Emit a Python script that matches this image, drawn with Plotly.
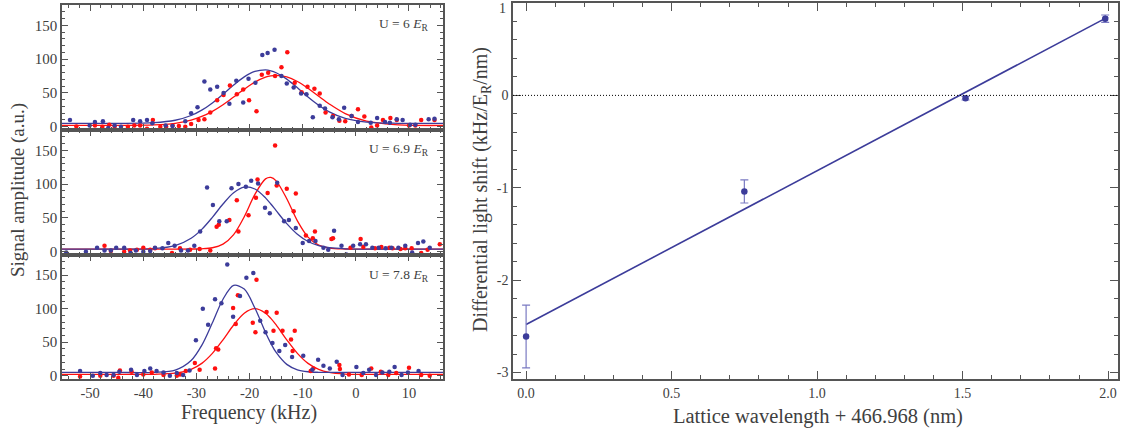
import plotly.graph_objects as go

# ---------------- data: left panels (spectra) ----------------
freq_tick_vals = [-50, -40, -30, -20, -10, 0, 10]
freq_tick_text = ["-50", "-40", "-30", "-20", "-10", "0", "10"]
amp_tick_vals = [0, 50, 100, 150]
amp_tick_text = ["0", "50", "100", "150"]
panel_labels = ["U = 6 <i>E</i><sub>R</sub>", "U = 6.9 <i>E</i><sub>R</sub>", "U = 7.8 <i>E</i><sub>R</sub>"]

p1_blue_x = [-53.8, -50.1, -49.1, -47.6, -46.6, -45.4, -44.2, -41.9, -40.6, -39.3, -38.3, -35.8, -34.5, -32.1,
             -31.0, -29.8, -28.5, -27.4, -26.1, -24.9, -23.8, -22.5, -21.2, -20.2, -18.9, -17.6, -16.6, -15.3,
             -14.0, -13.0, -11.7, -10.3, -9.3, -8.1, -6.8, -5.8, -4.4, -3.2, -2.2, -0.8, 0.4, 2.8, 4.0, 5.5,
             6.4, 7.7, 8.8, 10.2, 11.2, 13.7, 14.8]
p1_blue_y = [10, 2, 7, 8, -2, 2, 0, 10, 8, 10, 5, 2, 1, 8,
             20, 29, 67, 55, 59, 50, 34, 68, 36, 71, 65, 106, 109, 114,
             75, 64, 58, 49, 48, 14, 31, 27, 14, 11, 28, 16, 7, 6, 13, 7,
             6, 11, 10, 3, 3, 11, 12]
p1_red_x = [-52.6, -49.1, -47.7, -46.4, -45.4, -42.9, -41.7, -40.6, -39.3, -38.2, -36.8, -35.7, -34.5, -33.3,
            -32.1, -31.0, -29.6, -28.5, -27.4, -26.1, -24.9, -23.7, -22.4, -21.2, -20.1, -18.7, -17.7, -16.5,
            -15.2, -14.0, -12.9, -11.5, -10.2, -9.1, -7.8, -6.8, -5.7, -4.3, -3.1, -2.0, -0.8, 0.4, 1.6, 2.9,
            4.0, 5.1, 6.5, 7.7, 10.0, 11.2, 12.3, 14.8]
p1_red_y = [0.5, 2, 0, 3, 0, 0, 2, 2, -3, 10, 0, 0, 2, 1,
            0, 4, 10, 11, 21, 39, 47, 61, 48, 55, 39, 23, 77, 80,
            75, 88, 110, 65, 51, 59, 56, 49, 21, 16, 9, 8, 16, 26, 15, -1,
            2, 10, 13, 10, 2, 2, 10, 10]

p2_blue_x = [-54.5, -50.8, -48.7, -47.3, -46.1, -45.1, -43.6, -42.4, -41.4, -40.0, -38.7, -37.8, -36.4, -35.3,
             -34.1, -32.9, -31.6, -30.4, -29.3, -28.0, -26.9, -25.7, -24.3, -23.4, -22.1, -20.7, -19.7, -18.4,
             -17.1, -16.2, -14.8, -13.5, -12.6, -11.3, -10.0, -8.8, -7.6, -6.1, -5.2, -4.1, -2.7, -1.8, -0.5,
             0.8, 1.9, 3.1, 4.3, 5.6, 6.7, 8.0, 9.3, 10.6, 11.7, 12.7, 13.9]
p2_blue_y = [-1, 0, 6, 2, 2, 6, 6, -2, 2, 0, 1, 6, 5, 13,
             9, 2, 2, 9, 30, 95, 69, 45, 45, 94, 100, 96, 105, 101,
             65, 57, 102, 45, 47, 35, 13, 16, 16, 6, 3, 31, 9, -4, 9,
             11, 11, 6, 6, 5, 6, 6, 9, -1, 13, 15, 6]
p2_red_x = [-47.3, -46.1, -43.6, -42.5, -41.2, -40.0, -38.7, -37.8, -34.6, -33.1, -31.2, -29.4, -27.4, -26.2,
            -25.8, -23.8, -22.4, -22.1, -20.2, -18.8, -18.5, -16.6, -15.2, -14.9, -13.0, -11.3, -11.7, -9.4,
            -8.1, -7.7, -4.6, -4.3, -1.0, 0.9, 1.4, 3.6, 4.8, 6.3, 6.9, 8.4, 9.3, 10.5, 12.3, 13.5, 15.8]
p2_red_y = [9, 1, 0, 2, 3, 6, 3, 5, -2, 5, 3, 4, 2, 37,
            40, 47, 76, 30, 54, 80, 107, 87, 157, 98, 93, 86, 60, 24,
            20, 30, 19, 20, 6, 19, 7, 5, 7, 6, 5, 4, 5, 5, -2, 3, 11]

p3_blue_x = [-51.9, -49.5, -48.1, -46.9, -45.6, -44.5, -42.3, -41.2, -39.8, -38.7, -37.5, -36.2, -35.0, -33.7,
             -32.5, -31.3, -30.1, -28.8, -27.8, -26.5, -25.3, -24.2, -23.1, -21.8, -20.6, -19.3, -18.0, -17.0,
             -15.7, -14.4, -13.3, -12.0, -9.9, -8.2, -7.1, -6.1, -4.9, -3.6, -2.5, 0.1, 1.4, 2.5, 3.8, 5.0,
             6.3, 7.3, 8.6, 9.8, 11.8]
p3_blue_y = [7, 0, 4, 1, 1, 6, 9, 1, 7, 11, 7, 5, 0, 4,
             1, 8, 53, 100, 76, 114, 108, 166, 88, 119, 146, 153, 82, 65,
             49, 37, 46, 28, 30, 9, 24, 15, 11, 21, 1, 13, 4, 9, 1, 5,
             6, 13, 1, 5, 7]
p3_red_x = [-51.9, -48.1, -45.6, -44.7, -44.4, -42.2, -40.0, -38.4, -36.2, -33.7, -33.1, -32.0, -30.3, -29.4,
            -26.5, -26.3, -25.9, -23.1, -22.6, -22.2, -19.4, -18.9, -18.7, -16.8, -15.5, -14.9, -13.8, -12.2,
            -11.5, -11.9, -8.5, -8.0, -3.1, -3.0, -1.3, 1.1, 2.9, 4.7, 6.1, 7.6, 10.0, 12.3, 13.9]
p3_red_y = [-1, 0, 0, -3, 8, 6, 2, 5, 1, 0, 2, 7, 19, 9,
            11, 41, 39, 101, 77, 120, 79, 65, 143, 95, 67, 94, 67, 54,
            67, 37, 7, 11, 16, 10, 2, 1, 11, 6, 1, 4, 12, 1, 0]

fit_x = [-57, -45, -38, -34, -31, -29, -27, -25, -23, -21, -19, -17, -16, -15, -13, -11, -9, -7, -5, -2, 2, 8, 18]
p1_blue_fit = [5.0, 5.0, 6.0, 9.6, 16.6, 24.5, 35.2, 48.1, 61.7, 73.7, 81.7, 84.0, 82.7, 79.8, 70.4, 57.7, 44.1,
               31.8, 21.9, 12.3, 6.8, 5.1, 5.0]
p1_red_fit = [2.0, 2.0, 2.7, 5.1, 9.8, 15.2, 22.8, 32.6, 44.0, 55.6, 66.0, 73.3, 75.2, 76.0, 73.7, 66.9, 56.8,
              45.1, 33.7, 19.5, 8.3, 2.8, 2.0]
p2_blue_fit = [4.0, 4.0, 4.7, 9.0, 19.9, 33.1, 50.9, 70.6, 87.3, 95.6, 92.8, 79.7, 70.6, 60.8, 41.5, 25.8, 15.1,
               9.0, 6.0, 4.4, 4.0, 4.0, 4.0]
p2_red_fit = [4.0, 4.0, 4.0, 4.0, 4.05, 4.4, 5.9, 11.3, 25.4, 51.8, 84.8, 107.7, 109.9, 104.8, 78.4, 45.6, 21.7,
              9.7, 5.4, 4.1, 4.0, 4.0, 4.0]
p3_blue_fit = [5.0, 5.0, 5.2, 8.4, 22.7, 45.3, 78.9, 114.1, 134.7, 129.2, 100.9, 64.5, 48.3, 34.8, 17.0, 8.9, 6.0,
               5.2, 5.0, 5.0, 5.0, 5.0, 5.0]
p3_red_fit = [2.0, 2.0, 2.2, 3.8, 9.6, 18.5, 33.4, 53.6, 75.7, 93.3, 100.0, 93.3, 85.5, 75.7, 53.6, 33.4, 18.5,
              9.6, 5.0, 2.6, 2.0, 2.0, 2.0]

# ---------------- data: right panel ----------------
wl = [0.0, 0.75, 1.51, 1.99]
shift = [-2.61, -1.04, -0.03, 0.83]
shift_err = [0.34, 0.125, 0.02, 0.04]
line_x = [0.0, 2.0]
line_y = [-2.48, 0.85]
wl_tick_vals = [0.0, 0.5, 1.0, 1.5, 2.0]
wl_tick_text = ["0.0", "0.5", "1.0", "1.5", "2.0"]
sh_tick_vals = [-3, -2, -1, 0, 1]
sh_tick_text = ["-3", "-2", "-1", "0", ""]   # top label "1" is placed just inside the frame below
sh_top_label = "1"

# ---------------- style ----------------
BLUE = "#3c3c9a"
RED = "#ff0f0f"
ERR = "#7a7ac2"
FRAME = "#555555"
TXT = "#404040"
SERIF = "Liberation Serif"
W, H = 1127, 435

def px_x(p):
    return p / W

def px_y(p):
    return 1 - p / H

fig = go.Figure()

panels = [
    (p1_blue_x, p1_blue_y, p1_red_x, p1_red_y, p1_blue_fit, p1_red_fit),
    (p2_blue_x, p2_blue_y, p2_red_x, p2_red_y, p2_blue_fit, p2_red_fit),
    (p3_blue_x, p3_blue_y, p3_red_x, p3_red_y, p3_blue_fit, p3_red_fit),
]
for i, (bx, by, rx, ry, bf, rf) in enumerate(panels):
    xa = "x" if i == 0 else f"x{i+1}"
    ya = "y" if i == 0 else f"y{i+1}"
    fig.add_trace(go.Scatter(x=fit_x, y=rf, mode="lines", xaxis=xa, yaxis=ya,
                             line=dict(color=RED, width=1.3, shape="spline", smoothing=0.9),
                             showlegend=False, hoverinfo="skip"))
    fig.add_trace(go.Scatter(x=fit_x, y=bf, mode="lines", xaxis=xa, yaxis=ya,
                             line=dict(color=BLUE, width=1.3, shape="spline", smoothing=0.9),
                             showlegend=False, hoverinfo="skip"))
    fig.add_trace(go.Scatter(x=rx, y=ry, mode="markers", xaxis=xa, yaxis=ya,
                             marker=dict(color=RED, size=4.5), showlegend=False))
    fig.add_trace(go.Scatter(x=bx, y=by, mode="markers", xaxis=xa, yaxis=ya,
                             marker=dict(color=BLUE, size=4.5), showlegend=False))

# right panel
fig.add_trace(go.Scatter(x=line_x, y=line_y, mode="lines", xaxis="x4", yaxis="y4",
                         line=dict(color=BLUE, width=1.6), showlegend=False))
fig.add_trace(go.Scatter(x=wl, y=shift, mode="markers", xaxis="x4", yaxis="y4",
                         marker=dict(color=BLUE, size=6.5),
                         error_y=dict(type="data", array=shift_err, color=ERR, thickness=1.2, width=4),
                         showlegend=False))

left_dom_x = [px_x(62), px_x(443)]
panel_tops = [5, 130, 255]
panel_bots = [130, 255, 379]

common_axis = dict(showline=True, linecolor=FRAME, linewidth=1.5, mirror="allticks", ticks="inside",
                   tickcolor=FRAME, showgrid=False, zeroline=False, automargin=False,
                   tickfont=dict(family=SERIF, size=15, color=TXT))

layout = dict(width=W, height=H, margin=dict(l=0, r=0, t=0, b=0),
              paper_bgcolor="white", plot_bgcolor="white", showlegend=False,
              font=dict(family=SERIF, color=TXT))

for i in range(3):
    xk = "xaxis" if i == 0 else f"xaxis{i+1}"
    yk = "yaxis" if i == 0 else f"yaxis{i+1}"
    ya = "y" if i == 0 else f"y{i+1}"
    xa = "x" if i == 0 else f"x{i+1}"
    layout[xk] = dict(common_axis, domain=left_dom_x, anchor=ya, range=[-55.3, 16.4],
                      tickvals=freq_tick_vals, ticktext=freq_tick_text, ticklen=6, tickwidth=1,
                      showticklabels=(i == 2), tickfont=dict(family=SERIF, size=14.5, color=TXT),
                      minor=dict(ticks="inside", dtick=2, tick0=0, ticklen=3, tickcolor=FRAME, tickwidth=1))
    layout[yk] = dict(common_axis, domain=[px_y(panel_bots[i]), px_y(panel_tops[i])], anchor=xa,
                      range=[-4.8, 180], tickvals=amp_tick_vals, ticktext=amp_tick_text,
                      ticklen=6, tickwidth=1,
                      minor=dict(ticks="inside", dtick=10, tick0=0, ticklen=3, tickcolor=FRAME, tickwidth=1))

layout["xaxis4"] = dict(common_axis, domain=[px_x(513), px_x(1118)], anchor="y4", range=[-0.045, 2.034],
                        tickvals=wl_tick_vals, ticktext=wl_tick_text, ticklen=8, tickwidth=1,
                        tickfont=dict(family=SERIF, size=14, color=TXT),
                        minor=dict(ticks="inside", dtick=0.1, tick0=0, ticklen=4, tickcolor=FRAME, tickwidth=1))
layout["yaxis4"] = dict(common_axis, domain=[px_y(379), px_y(3)], anchor="x4", range=[-3.07, 1.0],
                        tickvals=sh_tick_vals, ticktext=sh_tick_text, ticklen=8, tickwidth=1,
                        tickfont=dict(family=SERIF, size=14, color=TXT),
                        minor=dict(ticks="inside", dtick=0.2, tick0=0, ticklen=4, tickcolor=FRAME, tickwidth=1))

fig.update_layout(**layout)

# zero reference line (dotted)
fig.add_shape(type="line", xref="x4 domain", yref="y4", x0=0, x1=1, y0=0, y1=0,
              line=dict(color="black", width=1, dash="1px,2px"))

# top tick label of the right panel
fig.add_annotation(text=sh_top_label, xref="paper", yref="paper", x=px_x(508), y=px_y(8),
                   xanchor="right", yanchor="middle", showarrow=False,
                   font=dict(family=SERIF, size=14, color=TXT))

# panel labels
label_y = [24, 149, 275]
for i, txt in enumerate(panel_labels):
    fig.add_annotation(text=txt, xref="paper", yref="paper", x=px_x(431), y=px_y(label_y[i]),
                       xanchor="right", yanchor="middle", showarrow=False,
                       font=dict(family=SERIF, size=13.5, color=TXT))

# axis titles
fig.add_annotation(text="Frequency (kHz)", xref="paper", yref="paper", x=px_x(249), y=px_y(412),
                   xanchor="center", yanchor="middle", showarrow=False,
                   font=dict(family=SERIF, size=20, color=TXT))
fig.add_annotation(text="Signal amplitude (a.u.)", xref="paper", yref="paper", x=px_x(18), y=px_y(190),
                   xanchor="center", yanchor="middle", showarrow=False, textangle=-90,
                   font=dict(family=SERIF, size=19, color=TXT))
fig.add_annotation(text="Lattice wavelength + 466.968 (nm)", xref="paper", yref="paper", x=px_x(818),
                   y=px_y(416), xanchor="center", yanchor="middle", showarrow=False,
                   font=dict(family=SERIF, size=20.5, color=TXT))
fig.add_annotation(text="Differential light shift (kHz/E<sub>R</sub>/nm)", xref="paper", yref="paper",
                   x=px_x(481), y=px_y(190), xanchor="center", yanchor="middle", showarrow=False,
                   textangle=-90, font=dict(family=SERIF, size=20, color=TXT))

fig.write_html("out.html")
